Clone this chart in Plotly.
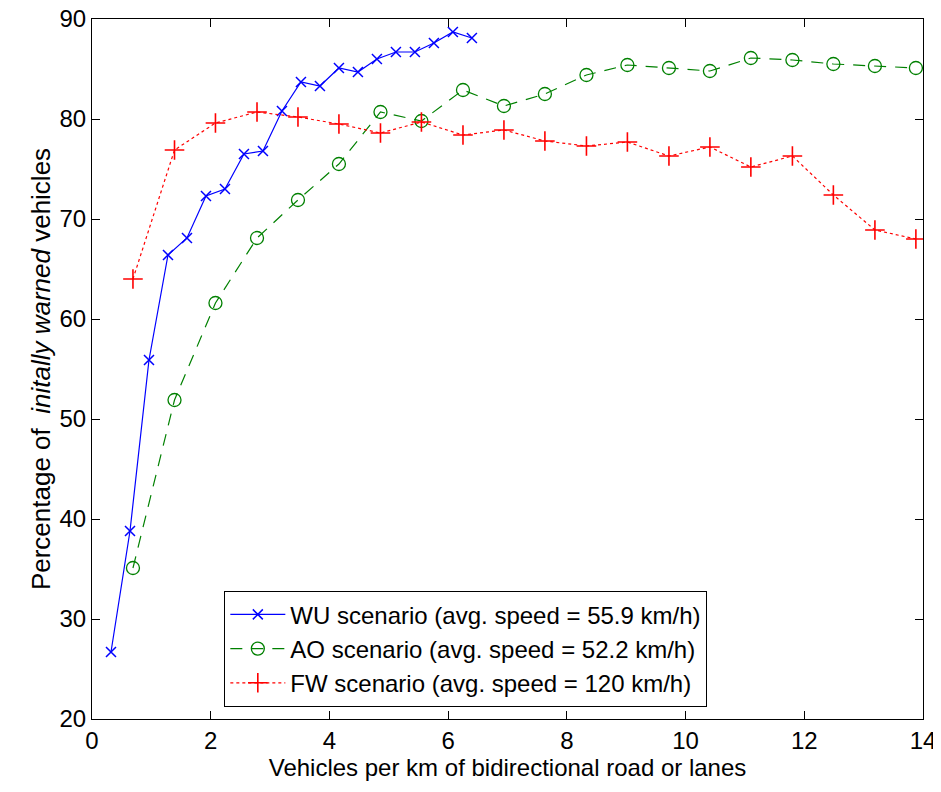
import plotly.graph_objects as go

wu_x = [0.32, 0.64, 0.96, 1.28, 1.60, 1.92, 2.24, 2.56, 2.88, 3.20,
        3.52, 3.84, 4.16, 4.48, 4.80, 5.12, 5.44, 5.76, 6.08, 6.40]
wu_y = [26.7, 38.8, 55.9, 66.4, 68.1, 72.3, 73.0, 76.5, 76.8, 80.8,
        83.7, 83.3, 85.1, 84.7, 86.0, 86.7, 86.7, 87.6, 88.7, 88.1]

ao_x = [0.69, 1.39, 2.08, 2.78, 3.47, 4.16, 4.86, 5.55, 6.25, 6.94,
        7.63, 8.33, 9.02, 9.72, 10.41, 11.10, 11.80, 12.49, 13.19, 13.88]
ao_y = [35.1, 51.9, 61.6, 68.1, 71.9, 75.5, 80.7, 79.8, 82.9, 81.3,
        82.5, 84.4, 85.4, 85.1, 84.8, 86.1, 85.9, 85.5, 85.3, 85.1]

fw_x = ao_x
fw_y = [64.0, 76.9, 79.6, 80.7, 80.2, 79.5, 78.6, 79.7, 78.4, 78.9,
        77.8, 77.3, 77.7, 76.3, 77.2, 75.2, 76.3, 72.4, 68.9, 68.0]

names = ["WU scenario (avg. speed = 55.9 km/h)",
         "AO scenario (avg. speed = 52.2 km/h)",
         "FW scenario (avg. speed = 120 km/h)"]

x_ticks = [0, 2, 4, 6, 8, 10, 12, 14]
y_ticks = [20, 30, 40, 50, 60, 70, 80, 90]

FONT = "Liberation Sans, Arial, sans-serif"

fig = go.Figure()
fig.add_trace(go.Scatter(x=wu_x, y=wu_y, name=names[0], mode="lines+markers",
                         line=dict(color="#0000FF", width=1.2, dash="solid"),
                         marker=dict(symbol="x-thin", size=10,
                                     line=dict(color="#0000FF", width=1.5))))
fig.add_trace(go.Scatter(x=ao_x, y=ao_y, name=names[1], mode="lines+markers",
                         line=dict(color="#008000", width=1.2, dash="12px,9px"),
                         marker=dict(symbol="circle-open", size=13, color="#008000",
                                     line=dict(color="#008000", width=1.3))))
fig.add_trace(go.Scatter(x=fw_x, y=fw_y, name=names[2], mode="lines+markers",
                         line=dict(color="#FF0000", width=1.2, dash="dot"),
                         marker=dict(symbol="cross-thin", size=14,
                                     line=dict(color="#FF0000", width=1.6))))

axis_common = dict(showline=True, linecolor="black", linewidth=1.2, mirror="ticks",
                   ticks="inside", ticklen=8, tickwidth=1.2, tickcolor="black",
                   showgrid=False, zeroline=False, automargin=False,
                   ticklabeloverflow="allow",
                   tickfont=dict(family=FONT, size=24, color="black"))

fig.update_xaxes(range=[0, 14], tickvals=x_ticks,
                 title=dict(text="Vehicles per km of bidirectional road or lanes",
                            font=dict(family=FONT, size=24, color="black"),
                            standoff=2),
                 **axis_common)
fig.update_yaxes(range=[20, 90], tickvals=y_ticks,
                 title=dict(text="Percentage of  <i>initally warned</i> vehicles",
                            font=dict(family=FONT, size=26, color="black"),
                            standoff=1),
                 **axis_common)

# The page body adds an 8px offset; the sizes below compensate for it.
fig.update_layout(
    width=933, height=784,
    margin=dict(l=84, r=18, t=11, b=73),
    paper_bgcolor="white", plot_bgcolor="white",
    font=dict(family=FONT, size=24, color="black"),
    legend=dict(x=0.159, y=0.017, xanchor="left", yanchor="bottom",
                bordercolor="black", borderwidth=1.2, bgcolor="white",
                font=dict(family=FONT, size=24, color="black"), itemwidth=55,
                tracegroupgap=0),
    showlegend=True,
)

fig.write_html("out.html")
